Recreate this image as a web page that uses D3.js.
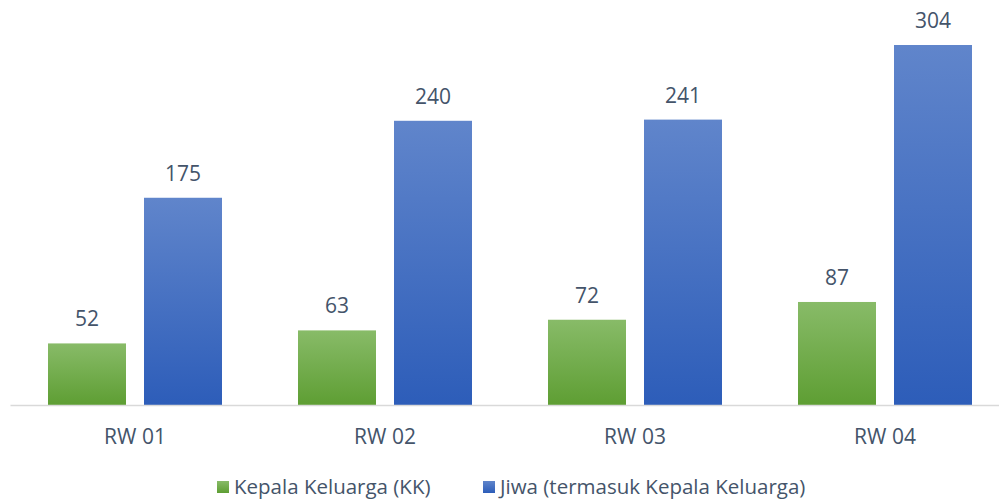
<!DOCTYPE html>
<meta charset="utf-8">
<script src="https://d3js.org/d3.v7.min.js"></script>
<style>
  body { margin: 0; background: #fff; }
  text { font-family: "Open Sans", sans-serif; fill: #44546A; }
</style>
<div id="chart"></div>
<script>

// data
var categories = ["RW 01", "RW 02", "RW 03", "RW 04"];
var seriesNames = ["Kepala Keluarga (KK)", "Jiwa (termasuk Kepala Keluarga)"];
var kepalaKeluarga = [52, 63, 72, 87];
var jiwa = [175, 240, 241, 304];

var width = 999, height = 501;

var svg = d3.select("#chart")
  .append("svg")
    .attr("width", width)
    .attr("height", height);

// gradients for the two series
var defs = svg.append("defs");
var grads = [
  {id: "gGreen", top: "#88BB68", bottom: "#5E9E33"},
  {id: "gBlue", top: "#6085CB", bottom: "#2D5DB9"}
];
grads.forEach(function(g) {
  var lg = defs.append("linearGradient")
    .attr("id", g.id)
    .attr("x1", 0).attr("y1", 0).attr("x2", 0).attr("y2", 1);
  lg.append("stop").attr("offset", "0%").attr("stop-color", g.top);
  lg.append("stop").attr("offset", "100%").attr("stop-color", g.bottom);
});

// scales
var x = d3.scaleBand()
  .domain(categories)
  .range([10, 1010]);

var x1 = d3.scaleBand()
  .domain(seriesNames)
  .range([38, 212])
  .paddingInner(0.1875);

var y = d3.scaleLinear()
  .domain([0, 342])
  .range([405, 0]);

var rows = categories.map(function(c, i) {
  return {cat: c, values: [kepalaKeluarga[i], jiwa[i]]};
});

// bars
var groups = svg.append("g")
  .selectAll("g")
  .data(rows)
  .enter()
  .append("g")
    .attr("transform", function(d) { return "translate(" + x(d.cat) + ",0)"; });

groups.selectAll("rect")
  .data(function(d) { return d.values.map(function(v, j) { return {name: seriesNames[j], value: v, j: j}; }); })
  .enter()
  .append("rect")
    .attr("x", function(d) { return x1(d.name); })
    .attr("y", function(d) { return y(d.value); })
    .attr("width", x1.bandwidth())
    .attr("height", function(d) { return y(0) - y(d.value); })
    .attr("fill", function(d) { return "url(#" + grads[d.j].id + ")"; });

// value labels
groups.selectAll("text.val")
  .data(function(d) { return d.values.map(function(v, j) { return {name: seriesNames[j], value: v}; }); })
  .enter()
  .append("text")
    .attr("class", "val")
    .attr("x", function(d) { return x1(d.name) + x1.bandwidth() / 2; })
    .attr("y", function(d) { return y(d.value) - 17; })
    .attr("text-anchor", "middle")
    .style("font-size", "21px")
    .text(function(d) { return d.value; });

// x axis
var xAxis = svg.append("g")
  .attr("transform", "translate(0," + y(0) + ")")
  .call(d3.axisBottom(x).tickSize(0).tickPadding(24));
xAxis.select(".domain").attr("stroke", "#D9D9D9").attr("stroke-width", 1.5);
xAxis.selectAll("text")
  .style("font-size", "21px")
  .style("font-family", "'Open Sans', sans-serif")
  .attr("fill", "#44546A");

// legend
var legendX = [217, 483];
var legend = svg.append("g")
  .selectAll("g")
  .data(seriesNames)
  .enter()
  .append("g")
    .attr("transform", function(d, i) { return "translate(" + legendX[i] + ",481)"; });

legend.append("rect")
  .attr("width", 12)
  .attr("height", 12)
  .attr("fill", function(d, i) { return "url(#" + grads[i].id + ")"; });

legend.append("text")
  .attr("x", 17)
  .attr("y", 13)
  .style("font-size", "20.5px")
  .text(function(d) { return d; });

</script>
